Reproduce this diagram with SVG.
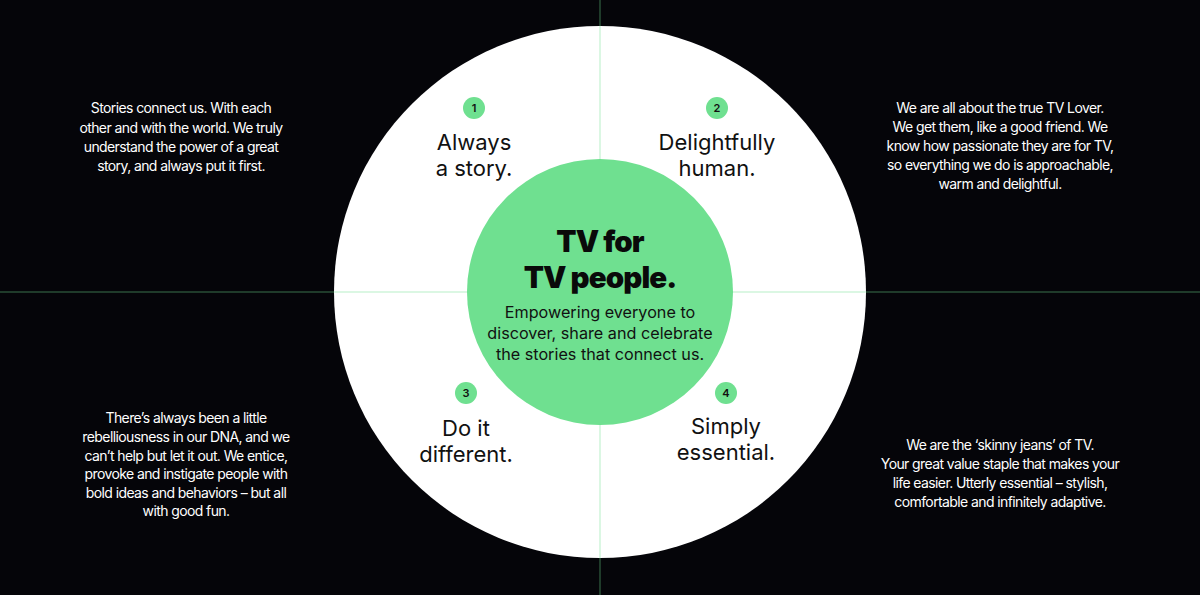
<svg xmlns="http://www.w3.org/2000/svg" width="1200" height="595" viewBox="0 0 1200 595">
<style>
.side{font-family:Inter,"Liberation Sans",sans-serif;font-size:14px;fill:#ffffff;text-anchor:middle;letter-spacing:-0.6px}
.title{font-family:Inter,"Liberation Sans",sans-serif;font-size:22px;fill:#111111;text-anchor:middle}
.num{font-family:Inter,"Liberation Sans",sans-serif;font-size:11px;font-weight:600;fill:#111111;text-anchor:middle}
.badge{fill:#6fe090}
.head{font-family:Inter,"Liberation Sans",sans-serif;font-size:29.5px;font-weight:900;fill:#0a0a0a;text-anchor:middle;letter-spacing:-0.9px}
.sub{font-family:Inter,"Liberation Sans",sans-serif;font-size:16.2px;fill:#111111;text-anchor:middle}
.axis{stroke:#6fe090;stroke-width:1;stroke-opacity:0.5}
</style>
<rect width="1200" height="595" fill="#050509"/>
<g id="outer-circle"><circle cx="600" cy="292" r="266" fill="#ffffff"/></g>
<g id="connectors">
<line class="axis" x1="0" y1="292" x2="1200" y2="292"/>
<line class="axis" x1="600" y1="0" x2="600" y2="595"/>
</g>
<g id="center">
<circle cx="600" cy="292" r="133" fill="#6fe090"/>
<text class="head" x="600" y="252">TV for</text>
<text class="head" x="600" y="288">TV people.</text>
<text class="sub" x="600" y="318">Empowering everyone to</text>
<text class="sub" x="600" y="339">discover, share and celebrate</text>
<text class="sub" x="600" y="360">the stories that connect us.</text>
</g>
<g id="value1">
<circle class="badge" cx="474" cy="108" r="11"/>
<text class="num" x="474" y="112">1</text>
<text class="title" x="474" y="150">Always</text>
<text class="title" x="474" y="176">a story.</text>
</g>
<g id="value2">
<circle class="badge" cx="717" cy="108" r="11"/>
<text class="num" x="717" y="112">2</text>
<text class="title" x="717" y="150">Delightfully</text>
<text class="title" x="717" y="176">human.</text>
</g>
<g id="value3">
<circle class="badge" cx="466" cy="393" r="11"/>
<text class="num" x="466" y="397">3</text>
<text class="title" x="466" y="436">Do it</text>
<text class="title" x="466" y="462">different.</text>
</g>
<g id="value4">
<circle class="badge" cx="726" cy="393" r="11"/>
<text class="num" x="726" y="397">4</text>
<text class="title" x="726" y="434">Simply</text>
<text class="title" x="726" y="460">essential.</text>
</g>
<g id="desc1">
<text class="side" x="181" y="113">Stories connect us. With each</text>
<text class="side" x="181" y="133">other and with the world. We truly</text>
<text class="side" x="181" y="152">understand the power of a great</text>
<text class="side" x="181" y="171">story, and always put it first.</text>
</g>
<g id="desc2">
<text class="side" x="1000" y="113">We are all about the true TV Lover.</text>
<text class="side" x="1000" y="132">We get them, like a good friend. We</text>
<text class="side" x="1000" y="151">know how passionate they are for TV,</text>
<text class="side" x="1000" y="170">so everything we do is approachable,</text>
<text class="side" x="1000" y="189">warm and delightful.</text>
</g>
<g id="desc3">
<text class="side" x="186" y="423">There’s always been a little</text>
<text class="side" x="186" y="442">rebelliousness in our DNA, and we</text>
<text class="side" x="186" y="461">can’t help but let it out. We entice,</text>
<text class="side" x="186" y="479">provoke and instigate people with</text>
<text class="side" x="186" y="498">bold ideas and behaviors – but all</text>
<text class="side" x="186" y="516">with good fun.</text>
</g>
<g id="desc4">
<text class="side" x="1000" y="450">We are the ‘skinny jeans’ of TV.</text>
<text class="side" x="1000" y="469">Your great value staple that makes your</text>
<text class="side" x="1000" y="488">life easier. Utterly essential – stylish,</text>
<text class="side" x="1000" y="507">comfortable and infinitely adaptive.</text>
</g>
</svg>
